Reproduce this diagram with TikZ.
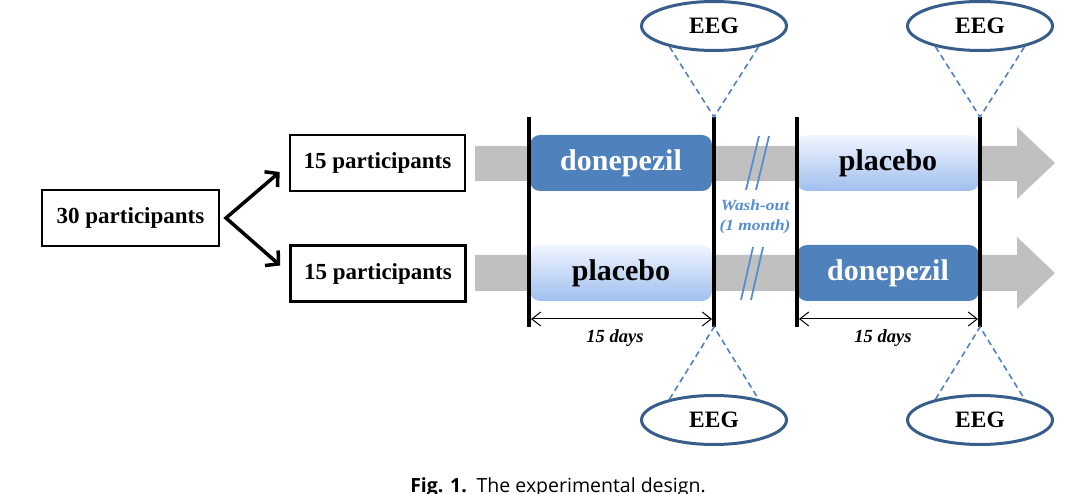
\documentclass[tikz,border=0pt]{standalone}
\usepackage{fontspec}
\setmainfont{Liberation Serif}
\newfontfamily\capfont{Open Sans}
\usetikzlibrary{arrows.meta,shapes.geometric}
\definecolor{dblue}{RGB}{79,129,189}
\definecolor{eborder}{RGB}{56,93,138}
\definecolor{washblue}{RGB}{84,141,212}
\definecolor{grayarrow}{RGB}{192,192,192}
\definecolor{pltop}{RGB}{240,245,255}
\definecolor{plbot}{RGB}{160,191,238}
\begin{document}
\begin{tikzpicture}[x=1pt,y=-1pt,
  partbox/.style={draw=black, line width=2.7pt, minimum width=175pt, minimum height=56pt, inner sep=0pt, font=\fontsize{23}{26}\selectfont\bfseries},
  drugdark/.style={fill=dblue, rounded corners=10pt, minimum width=182pt, minimum height=56pt, inner sep=0pt, text=white, font=\fontsize{30}{33}\selectfont\bfseries},
  druglight/.style={top color=pltop, bottom color=plbot, rounded corners=10pt, minimum width=182pt, minimum height=56pt, inner sep=0pt, text=black, font=\fontsize{30}{33}\selectfont\bfseries},
  eeg/.style={ellipse, draw=eborder, line width=3pt, fill=white, minimum width=145pt, minimum height=49pt, inner sep=0pt, font=\fontsize{23.5}{26}\selectfont\bfseries},
  phase/.style={line width=4pt, draw=black},
  branch/.style={line width=3.5pt, draw=black, miter limit=10, {Straight Barb[length=9pt,width=20pt]}-{Straight Barb[length=9pt,width=20pt]}},
  dimline/.style={line width=1pt, draw=black, {Straight Barb[length=9pt,width=14pt]}-{Straight Barb[length=9pt,width=14pt]}},
  probe/.style={dash pattern=on 6pt off 4pt, line width=1.6pt, draw=dblue},
  slashline/.style={line width=1.8pt, draw=washblue},
  band/.style={fill=grayarrow},
  days/.style={font=\fontsize{18.5}{21}\selectfont\bfseries\itshape},
  ]
\useasboundingbox (0,0) rectangle (1066,494);

% gray timeline arrows
\fill[band] (475,146) -- (1017,146) -- (1017,127) -- (1055,163) -- (1017,199) -- (1017,181) -- (475,181) -- cycle;
\fill[band] (475,255) -- (1017,255) -- (1017,237) -- (1055,273) -- (1017,309) -- (1017,291) -- (475,291) -- cycle;

% participants
\node[partbox, minimum width=177pt] (p30) at (130.5,218) {30 participants};
\node[partbox] (p15a) at (377.5,163) {15 participants};
\node[partbox] (p15b) at (378,273.5) {15 participants};
\coordinate (split) at (226,218);
\draw[branch] ([shift={(-9,9)}]p15a.west) -- (split) -- ([shift={(-9,-8)}]p15b.west);

% treatment boxes
\node[drugdark] (d1) at (621,163) {donepezil};
\node[druglight] (pl1) at (888,163) {placebo};
\node[druglight] (pl2) at (621,273) {placebo};
\node[drugdark] (d2) at (888,273) {donepezil};

% phase lines
\coordinate (t1) at (529,117); \coordinate (b1) at (529,327);
\coordinate (t2) at (714,117); \coordinate (b2) at (714,327);
\coordinate (t3) at (797,117); \coordinate (b3) at (797,327);
\coordinate (t4) at (980,117); \coordinate (b4) at (980,327);
\draw[phase] (t1) -- (b1);
\draw[phase] (t2) -- (b2);
\draw[phase] (t3) -- (b3);
\draw[phase] (t4) -- (b4);

% wash-out breaks
\draw[slashline] (759,136) -- (746,190);
\draw[slashline] (769,136) -- (756,190);
\draw[slashline] (753,247) -- (741,300);
\draw[slashline] (763,247) -- (751,300);
\node[text=washblue, font=\fontsize{15.5}{20}\selectfont\bfseries\itshape, align=center] (wash) at (755,217) {\scalebox{1.12}[1]{Wash-out}\\\scalebox{1.12}[1]{(1 month)}};

% durations
\coordinate (l1) at (531,319); \coordinate (r1) at (712,319);
\coordinate (l2) at (799,319); \coordinate (r2) at (978,319);
\draw[dimline] (l1) -- (r1);
\draw[dimline] (l2) -- (r2);
\node[days] (days1) at (615,338) {15 days};
\node[days] (days2) at (883,338) {15 days};

% EEG recordings
\node[eeg] (e1) at (714,26) {EEG};
\node[eeg] (e2) at (980,26) {EEG};
\node[eeg] (e3) at (714,420) {EEG};
\node[eeg] (e4) at (980,420) {EEG};
\draw[probe] (e1.205) -- (t2) -- (e1.335);
\draw[probe] (e2.205) -- (t4) -- (e2.335);
\draw[probe] (e3.155) -- (b2) -- (e3.25);
\draw[probe] (e4.155) -- (b4) -- (e4.25);

% caption
\node[font=\capfont\fontsize{19.5}{22}\selectfont, anchor=base] (cap) at (558,492.5) {\textbf{Fig. 1.}\enspace The experimental design.};
\end{tikzpicture}
\end{document}
